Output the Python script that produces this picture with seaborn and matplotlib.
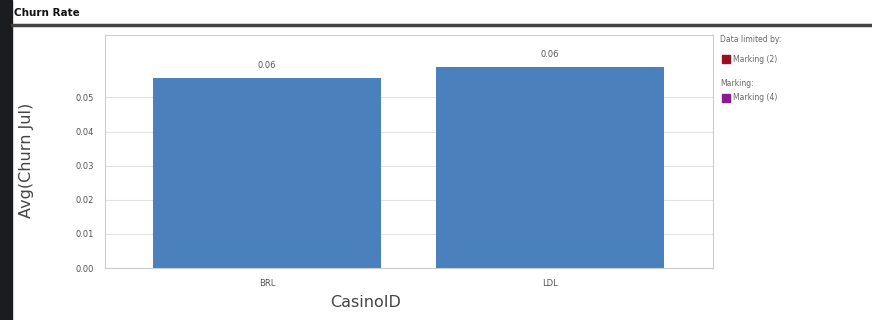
import matplotlib
matplotlib.use("Agg")
import matplotlib.pyplot as plt
import seaborn as sns
import pandas as pd
from matplotlib.patches import Rectangle
from matplotlib.lines import Line2D

casino_ids = ["BRL", "LDL"]
churn_avg = [0.0556, 0.0588]
bar_labels = ["0.06", "0.06"]
y_ticks = [0.00, 0.01, 0.02, 0.03, 0.04, 0.05]

df = pd.DataFrame({"CasinoID": casino_ids, "Avg(Churn Jul)": churn_avg})

sns.set_style("white")
fig = plt.figure(figsize=(8.72, 3.2), dpi=100)

# dark strip on the left edge, like the screenshot frame
fig.patches.append(Rectangle((0, 0), 12 / 872, 1, transform=fig.transFigure,
                             color="#1a1d20", zorder=0))

# panel title and its rule
fig.text(14 / 872, 1 - 13 / 320, "Churn Rate", fontsize=7.5, fontweight="bold",
         va="center", ha="left", color="#111111")
fig.add_artist(Line2D([12 / 872, 1], [1 - 25 / 320, 1 - 25 / 320],
                      transform=fig.transFigure, color="#444444", lw=2.5))

ax = fig.add_axes([105 / 872, 1 - 268 / 320, 608 / 872, 233 / 320])
sns.barplot(data=df, x="CasinoID", y="Avg(Churn Jul)", color="#4a80bb",
            saturation=1, width=0.805, linewidth=0, ax=ax)

for i, (v, lab) in enumerate(zip(churn_avg, bar_labels)):
    ax.text(i, v + 0.0025, lab, ha="center", va="bottom", fontsize=6, color="#555555")

ax.set_xlim(-0.573, 1.576)
ax.set_ylim(0, 0.0683)
ax.set_yticks(y_ticks)
ax.set_yticklabels([f"{t:.2f}" for t in y_ticks])
ax.tick_params(axis="both", labelsize=6, colors="#555555", length=0, pad=8)
ax.yaxis.grid(True, color="#e2e2e2", lw=0.8)
ax.set_axisbelow(True)
for s in ax.spines.values():
    s.set_color("#cccccc")
    s.set_linewidth(0.8)

ax.set_xlabel("CasinoID", fontsize=11.5, color="#444444")
ax.set_ylabel("Avg(Churn Jul)", fontsize=11.5, color="#444444")
ax.xaxis.set_label_coords((366 - 105) / 608, -(295 - 268) / 233)
ax.yaxis.set_label_coords(-(105 - 34) / 608, (268 - 160) / 233)

# legend at the right
fig.text(720 / 872, 1 - 40 / 320, "Data limited by:", fontsize=5.5, color="#666666", va="center")
fig.patches.append(Rectangle((722 / 872, 1 - 63 / 320), 8 / 872, 8 / 320,
                             transform=fig.transFigure, color="#9b1020"))
fig.text(733 / 872, 1 - 59 / 320, "Marking (2)", fontsize=5.5, color="#666666", va="center")
fig.text(720 / 872, 1 - 84 / 320, "Marking:", fontsize=5.5, color="#666666", va="center")
fig.patches.append(Rectangle((722 / 872, 1 - 102 / 320), 8 / 872, 8 / 320,
                             transform=fig.transFigure, color="#8a1a8f"))
fig.text(733 / 872, 1 - 98 / 320, "Marking (4)", fontsize=5.5, color="#666666", va="center")

fig.savefig("out.png", dpi=100)
